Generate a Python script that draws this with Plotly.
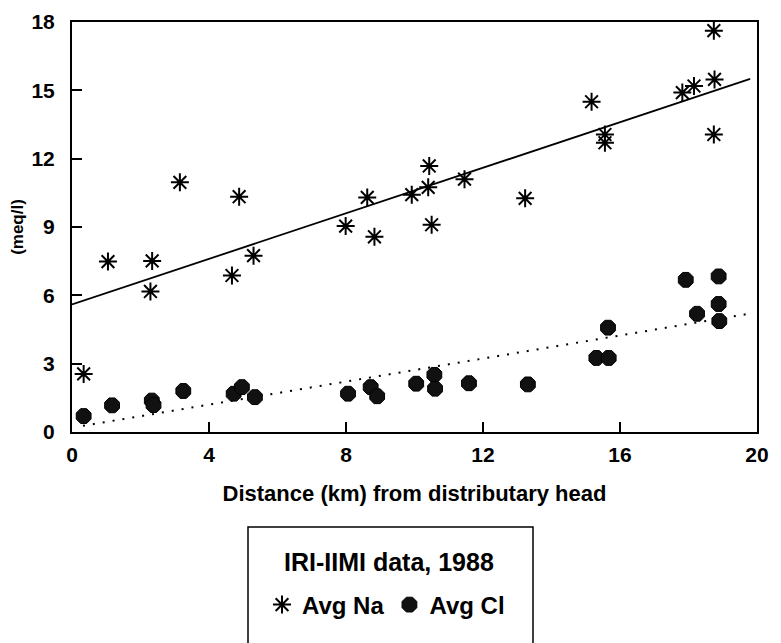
import plotly.graph_objects as go

# Distance (km) from distributary head and average Na (meq/l)
dist_na = [0.34, 1.05, 2.29, 2.34, 3.15, 4.67, 4.88, 5.30, 7.99, 8.62, 8.83, 9.92,
           10.40, 10.43, 10.50, 11.46, 13.23, 15.17, 15.56, 15.56, 17.82, 18.16,
           18.74, 18.76, 18.74]
avg_na = [2.55, 7.48, 6.17, 7.51, 10.96, 6.87, 10.33, 7.74, 9.04, 10.30, 8.57, 10.42,
          10.74, 11.68, 9.10, 11.10, 10.26, 14.50, 13.06, 12.70, 14.90, 15.19,
          17.62, 15.48, 13.06]

# Distance (km) and average Cl (meq/l)
dist_cl = [0.34, 1.17, 2.33, 2.38, 3.25, 4.72, 4.96, 5.34, 8.06, 8.72, 8.91, 10.05,
           10.58, 10.60, 11.59, 13.31, 15.31, 15.67, 15.65, 17.92, 18.25, 18.88,
           18.90, 18.88]
avg_cl = [0.70, 1.17, 1.38, 1.18, 1.80, 1.68, 1.97, 1.53, 1.68, 1.97, 1.57, 2.12,
          2.51, 1.90, 2.14, 2.09, 3.25, 3.25, 4.58, 6.68, 5.19, 5.62, 4.87, 6.83]

# Fitted trend lines (end points)
na_fit_x = [0.0, 19.8]
na_fit_y = [5.6, 15.5]
cl_fit_x = [0.32, 19.8]
cl_fit_y = [0.27, 5.2]

x_ticks = [0, 4, 8, 12, 16, 20]
y_ticks = [0, 3, 6, 9, 12, 15, 18]

legend_title = "IRI-IIMI data, 1988"

TEXT_FONT = "Liberation Sans, Arial, Helvetica, sans-serif"
TICK_FONT = dict(family=TEXT_FONT, size=21, color="black", weight="bold")

fig = go.Figure()

fig.add_trace(go.Scatter(x=na_fit_x, y=na_fit_y, mode="lines",
                         line=dict(color="black", width=1.8),
                         showlegend=False, hoverinfo="skip"))
fig.add_trace(go.Scatter(x=cl_fit_x, y=cl_fit_y, mode="lines",
                         line=dict(color="black", width=2, dash="2px,8px"),
                         showlegend=False, hoverinfo="skip"))

fig.add_trace(go.Scatter(x=dist_na, y=avg_na, mode="markers", name="Avg Na",
                         marker=dict(symbol="asterisk-open", size=15,
                                     line=dict(color="black", width=2), color="black")))
fig.add_trace(go.Scatter(x=dist_cl, y=avg_cl, mode="markers", name="Avg Cl",
                         marker=dict(symbol="octagon", size=16, color="#111111",
                                     line=dict(color="black", width=1))))

OFF = 8  # page body margin
W, H = 781 - OFF, 643 - OFF
L, T = 72 - OFF, 22 - OFF
R = W - (757 - OFF)
B = H - (432 - OFF)
pw, ph = W - L - R, H - T - B


def px_x(px):
    return (px - OFF - L) / pw


def px_y(py):
    return (H - B - (py - OFF)) / ph


# legend frame
fig.add_shape(type="rect", xref="paper", yref="paper",
              x0=px_x(248), x1=px_x(533), y0=px_y(660), y1=px_y(527),
              line=dict(color="black", width=1.5), fillcolor="rgba(0,0,0,0)")

# legend heading
fig.add_annotation(xref="paper", yref="paper", x=px_x(389), y=px_y(562),
                   text=legend_title, showarrow=False, xanchor="center", yanchor="middle",
                   font=dict(family=TEXT_FONT, size=25, color="black", weight="bold"))

fig.update_layout(
    width=W, height=H,
    margin=dict(l=L, r=R, t=T, b=B, autoexpand=False),
    paper_bgcolor="white", plot_bgcolor="white",
    showlegend=True,
    legend=dict(
        orientation="h",
        x=px_x(386), xanchor="center",
        y=px_y(605), yanchor="middle",
        bgcolor="rgba(0,0,0,0)", borderwidth=0,
        font=dict(family=TEXT_FONT, size=24, color="black", weight="bold"),
        itemwidth=30,
    ),
    xaxis=dict(
        range=[0, 20], tickvals=x_ticks, ticktext=["<b>%d</b>" % v for v in x_ticks],
        showgrid=False, zeroline=False,
        showline=True, linecolor="black", linewidth=2, mirror=True,
        ticks="inside", ticklen=10, tickwidth=1.5, tickcolor="black",
        tickfont=TICK_FONT, ticklabelstandoff=3, ticklabeloverflow="allow",
        title=dict(text="Distance (km) from distributary head", standoff=20,
                   font=dict(family=TEXT_FONT, size=22, color="black", weight="bold")),
        automargin=False,
    ),
    yaxis=dict(
        range=[0, 18], tickvals=y_ticks, ticktext=["<b>%d</b>" % v for v in y_ticks],
        showgrid=False, zeroline=False,
        showline=True, linecolor="black", linewidth=2, mirror=True,
        ticks="inside", ticklen=10, tickwidth=1.5, tickcolor="black",
        tickfont=TICK_FONT, ticklabelstandoff=11, ticklabeloverflow="allow",
        title=dict(text="(meq/l)", standoff=4,
                   font=dict(family=TEXT_FONT, size=17, color="black", weight="bold")),
        automargin=False,
    ),
)

fig.write_html("out.html")
